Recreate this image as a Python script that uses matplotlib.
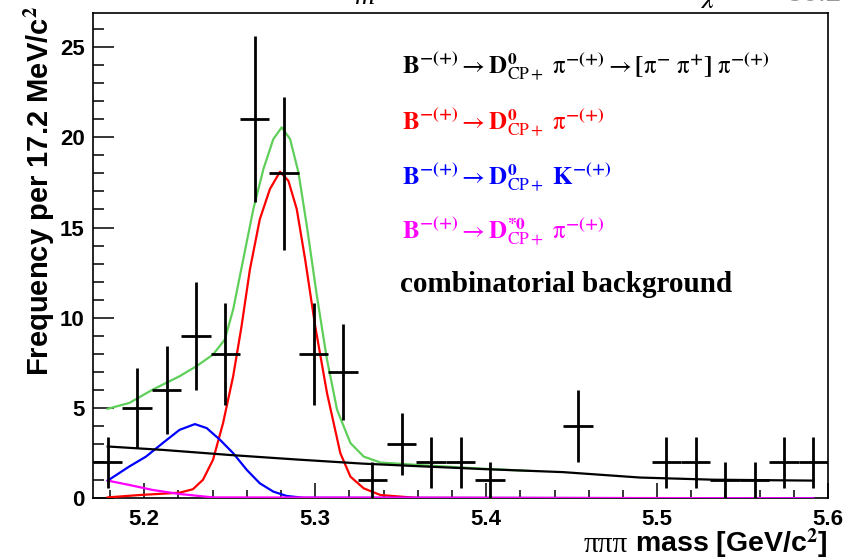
import numpy as np
import matplotlib
matplotlib.use("Agg")
import matplotlib.pyplot as plt
from matplotlib.ticker import MultipleLocator, FormatStrFormatter

plt.rcParams["mathtext.fontset"] = "stix"

# histogram: 25 bins of 17.2 MeV starting at 5.17 GeV
bin_lo = 5.17
bin_width = 0.0172
counts = [2, 5, 6, 9, 8, 21, 18, 8, 7, 1, 3, 2, 2, 1, 0, 0, 4, 0, 0, 2, 2, 1, 1, 2, 2]

# fit components
total_x = [5.1786, 5.1912, 5.2049, 5.2206, 5.2304, 5.2402, 5.2471, 5.2520, 5.2579,
           5.2638, 5.2697, 5.2755, 5.2804, 5.2853, 5.2902, 5.2951, 5.3010, 5.3069,
           5.3128, 5.3206, 5.3284, 5.3382, 5.3599, 5.398, 5.425]
total_y = [4.96, 5.28, 6.02, 6.76, 7.31, 7.96, 8.79, 10.46, 13.24,
           16.02, 18.24, 19.9, 20.55, 19.9, 18.05, 15.09, 11.2, 7.68,
           4.9, 3.06, 2.31, 1.98, 1.85, 1.64, 1.52]

dpi_x = [5.1786, 5.197, 5.2206, 5.2284, 5.2343, 5.2402, 5.2461, 5.2520, 5.2569,
         5.2618, 5.2676, 5.2735, 5.2794, 5.2843, 5.2892, 5.2941, 5.3000, 5.3069,
         5.3147, 5.3206, 5.3284, 5.3382, 5.36, 5.5914]
dpi_y = [0.05, 0.18, 0.31, 0.5, 1.02, 2.13, 4.17, 6.76, 9.53,
         12.68, 15.46, 17.13, 18.09, 17.59, 16.02, 13.24, 9.53, 5.83,
         2.5, 1.2, 0.55, 0.18, 0.02, 0.0]

dk_x = [5.1786, 5.1912, 5.2010, 5.2108, 5.2206, 5.2296, 5.2365, 5.2443, 5.2520,
        5.2600, 5.2676, 5.2755, 5.2833, 5.2931, 5.5914]
dk_y = [0.98, 1.76, 2.31, 3.06, 3.79, 4.11, 3.89, 3.24, 2.5,
        1.57, 0.83, 0.37, 0.13, 0.03, 0.0]

dstar_x = [5.1786, 5.1912, 5.2050, 5.2206, 5.2402, 5.5914]
dstar_y = [0.98, 0.74, 0.46, 0.24, 0.05, 0.0]

bkg_x = [5.1786, 5.211, 5.250, 5.289, 5.328, 5.36, 5.398, 5.445, 5.49, 5.533, 5.5914]
bkg_y = [2.87, 2.68, 2.40, 2.15, 1.92, 1.78, 1.62, 1.45, 1.15, 1.03, 0.98]

PI = r"\mathrm{\pi}"
legend_rows = [
    (r"$\mathbf{B^{-(+)}} \rightarrow \mathbf{D}^{\mathbf{0}}_{\mathrm{CP+}}\ " + PI + r"^{\mathbf{-(+)}}"
     r" \rightarrow \mathbf{[}" + PI + r"^{\mathbf{-}}\ " + PI + r"^{\mathbf{+}}\mathbf{]}\ "
     + PI + r"^{\mathbf{-(+)}}$", "black"),
    (r"$\mathbf{B^{-(+)}} \rightarrow \mathbf{D}^{\mathbf{0}}_{\mathrm{CP+}}\ " + PI
     + r"^{\mathbf{-(+)}}$", "#ff0000"),
    (r"$\mathbf{B^{-(+)}} \rightarrow \mathbf{D}^{\mathbf{0}}_{\mathrm{CP+}}\ \mathbf{K^{-(+)}}$", "#0000ff"),
    (r"$\mathbf{B^{-(+)}} \rightarrow \mathbf{D}^{\mathbf{*0}}_{\mathrm{CP+}}\ " + PI
     + r"^{\mathbf{-(+)}}$", "#ff00ff"),
]

counts = np.array(counts, dtype=float)
centers = bin_lo + bin_width * (np.arange(len(counts)) + 0.5)
filled = counts > 0

fig = plt.figure(figsize=(8.44, 5.6), dpi=100)
ax = fig.add_axes([93 / 844, 1 - 498.3 / 560, 735 / 844, 485.6 / 560])

lw = 1.6
ax.plot(total_x, total_y, color="#5fcf5a", lw=lw, zorder=2)
ax.plot(dpi_x, dpi_y, color="#ff0000", lw=lw, zorder=3)
ax.plot(dk_x, dk_y, color="#0000ff", lw=lw, zorder=3)
ax.plot(dstar_x, dstar_y, color="#ff00ff", lw=lw, zorder=4)
ax.plot(bkg_x, bkg_y, color="black", lw=lw, zorder=5)

ax.errorbar(centers[filled], counts[filled], xerr=bin_width / 2,
            yerr=np.sqrt(counts[filled]), fmt="none", ecolor="black",
            elinewidth=2.0, capsize=0, zorder=6)

ax.set_xlim(5.17, 5.60)
ax.set_ylim(0, 26.9)
ax.xaxis.set_major_locator(MultipleLocator(0.1))
ax.xaxis.set_minor_locator(MultipleLocator(0.02))
ax.xaxis.set_major_formatter(FormatStrFormatter("%.1f"))
ax.yaxis.set_major_locator(MultipleLocator(5))
ax.yaxis.set_minor_locator(MultipleLocator(1))
ax.tick_params(which="both", direction="in", top=False, right=False, width=1.1)
ax.tick_params(axis="x", which="major", length=11, pad=8)
ax.tick_params(axis="x", which="minor", length=5.5)
ax.tick_params(axis="y", which="major", length=15, pad=6)
ax.tick_params(axis="y", which="minor", length=8)
for lab in ax.get_xticklabels() + ax.get_yticklabels():
    lab.set_fontfamily("Liberation Sans")
    lab.set_fontweight("bold")
    lab.set_fontsize(16)
for sp in ax.spines.values():
    sp.set_linewidth(1.2)

# axis titles (ROOT style, aligned to the far end)
fig.text(828 / 844, 1 - 552 / 560, "mass [GeV/c$^\\mathbf{2}$]", fontsize=20.5,
         fontfamily="Liberation Sans", fontweight="bold", ha="right", va="baseline")
fig.text(628 / 844, 1 - 552 / 560, "πππ", fontsize=21, fontfamily="Liberation Serif",
         ha="right", va="baseline")
fig.text(40 / 844, 1 - 6 / 560, r"Frequency per 17.2 MeV/c$^\mathbf{2}$",
         rotation=90, ha="center", va="top", fontsize=21,
         fontfamily="Liberation Sans", fontweight="bold")

# legend text
rows_y = [73.8, 129.5, 185, 239]
for (txt, col), yb in zip(legend_rows, rows_y):
    fig.text(402 / 844, 1 - yb / 560, txt, color=col,
             fontsize=18, ha="left", va="baseline")
fig.text(400 / 844, 1 - 291.7 / 560, "combinatorial background",
         fontfamily="Liberation Serif", fontweight="bold", fontsize=21,
         ha="left", va="baseline")

# clipped titles at the very top
fig.text(355 / 844, 1 - 4 / 560, "m", fontsize=20, fontfamily="Liberation Serif",
         style="italic", va="baseline")
fig.text(700 / 844, 1 - 3 / 560, r"$\chi^2$", fontsize=20, va="baseline")
fig.text(763 / 844, 1 - 1 / 560, "= 30.25", fontsize=20, color="#999999",
         fontfamily="Liberation Sans", va="baseline")

fig.savefig("out.png", dpi=100)
